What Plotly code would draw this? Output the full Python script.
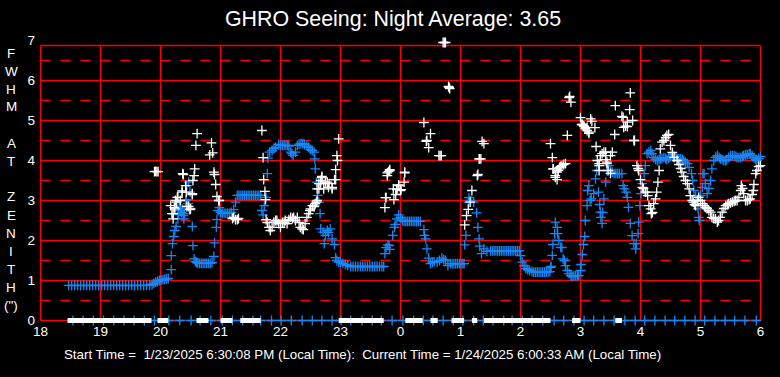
import plotly.graph_objects as go

# ---------------- data (hours since midnight of start day; 24+ = next day) ----------------
blue_hours = [
    18.47, 18.52, 18.57, 18.62, 18.67, 18.72, 18.77, 18.82, 18.87, 18.92,
    18.97, 19.02, 19.07, 19.12, 19.17, 19.22, 19.27, 19.32, 19.37, 19.42,
    19.47, 19.52, 19.57, 19.62, 19.67, 19.72, 19.77, 19.82, 19.86, 19.89,
    19.92, 19.95, 19.98, 20.01, 20.04, 20.07, 20.10, 20.13, 20.18, 20.18,
    20.20, 20.22, 20.24, 20.26, 20.29, 20.30, 20.31, 20.33, 20.35, 20.36,
    20.38, 20.39, 20.40, 20.42, 20.43, 20.44, 20.46, 20.47, 20.49, 20.50,
    20.53, 20.54, 20.56, 20.58, 20.60, 20.62, 20.65, 20.68, 20.71, 20.74,
    20.77, 20.80, 20.83, 20.86, 20.89, 20.90, 20.93, 20.94, 20.96, 20.98,
    21.00, 21.03, 21.06, 21.09, 21.12, 21.15, 21.18, 21.22, 21.25, 21.28,
    21.31, 21.34, 21.37, 21.40, 21.43, 21.46, 21.49, 21.52, 21.55, 21.58,
    21.61, 21.64, 21.67, 21.69, 21.71, 21.73, 21.76, 21.78, 21.79, 21.82,
    21.86, 21.89, 21.92, 21.97, 22.00, 22.03, 22.06, 22.09, 22.12, 22.14,
    22.17, 22.19, 22.21, 22.25, 22.28, 22.31, 22.34, 22.37, 22.40, 22.44,
    22.47, 22.50, 22.53, 22.56, 22.57, 22.58, 22.60, 22.62, 22.64, 22.66,
    22.67, 22.71, 22.73, 22.75, 22.78, 22.80, 22.83, 22.86, 22.90, 22.92,
    22.94, 22.97, 23.00, 23.04, 23.08, 23.12, 23.17, 23.21, 23.25, 23.29,
    23.33, 23.37, 23.41, 23.45, 23.49, 23.53, 23.57, 23.61, 23.65, 23.69,
    23.72, 23.74, 23.76, 23.79, 23.81, 23.82, 23.87, 23.90, 23.91, 23.94,
    23.97, 24.00, 24.03, 24.06, 24.09, 24.12, 24.15, 24.18, 24.21, 24.24,
    24.27, 24.30, 24.33, 24.39, 24.40, 24.42, 24.44, 24.47, 24.50, 24.53,
    24.56, 24.61, 24.65, 24.69, 24.72, 24.75, 24.79, 24.83, 24.86, 24.89,
    24.92, 24.95, 24.98, 25.01, 25.04, 25.06, 25.07, 25.09, 25.10, 25.13,
    25.14, 25.17, 25.22, 25.27, 25.29, 25.31, 25.32, 25.35, 25.39, 25.44,
    25.50, 25.53, 25.56, 25.59, 25.62, 25.65, 25.68, 25.71, 25.74, 25.77,
    25.80, 25.83, 25.86, 25.89, 25.92, 25.95, 25.98, 26.00, 26.03, 26.06,
    26.09, 26.12, 26.15, 26.19, 26.22, 26.25, 26.28, 26.31, 26.34, 26.37,
    26.40, 26.43, 26.46, 26.49, 26.50, 26.51, 26.53, 26.54, 26.57, 26.58,
    26.61, 26.62, 26.64, 26.67, 26.69, 26.71, 26.73, 26.75, 26.78, 26.81,
    26.84, 26.86, 26.89, 26.92, 26.95, 26.97, 27.00, 27.01, 27.03, 27.05,
    27.07, 27.08, 27.11, 27.12, 27.14, 27.16, 27.18, 27.22, 27.25, 27.27,
    27.30, 27.32, 27.33, 27.34, 27.36, 27.37, 27.39, 27.42, 27.44, 27.47,
    27.50, 27.53, 27.56, 27.59, 27.62, 27.65, 27.69, 27.71, 27.73, 27.76,
    27.78, 27.80, 27.83, 27.86, 27.89, 27.92, 27.93, 27.96, 27.97, 27.99,
    28.01, 28.03, 28.06, 28.08, 28.11, 28.14, 28.17, 28.19, 28.22, 28.25,
    28.28, 28.31, 28.33, 28.36, 28.39, 28.42, 28.44, 28.47, 28.50, 28.54,
    28.57, 28.61, 28.64, 28.67, 28.70, 28.72, 28.75, 28.78, 28.81, 28.85,
    28.87, 28.89, 28.92, 28.94, 28.96, 28.97, 28.98, 29.00, 29.03, 29.04,
    29.06, 29.08, 29.11, 29.14, 29.17, 29.19, 29.22, 29.25, 29.28, 29.31,
    29.33, 29.36, 29.39, 29.42, 29.44, 29.47, 29.50, 29.53, 29.56, 29.59,
    29.61, 29.64, 29.67, 29.70, 29.72, 29.75, 29.78, 29.81, 29.83, 29.86,
    29.89, 29.92, 29.94, 29.97, 30.00,
]
blue_fwhm = [
    0.88, 0.87, 0.88, 0.88, 0.87, 0.88, 0.88, 0.87, 0.88, 0.88,
    0.87, 0.88, 0.88, 0.87, 0.88, 0.88, 0.87, 0.88, 0.88, 0.87,
    0.88, 0.88, 0.87, 0.88, 0.88, 0.87, 0.88, 0.88, 0.90, 0.93,
    0.96, 0.98, 1.00, 1.01, 1.02, 1.03, 1.04, 1.05, 1.27, 1.62,
    1.92, 2.10, 2.25, 2.35, 2.54, 2.65, 2.85, 2.75, 2.70, 2.79,
    2.62, 2.54, 2.67, 3.00, 3.02, 3.37, 2.92, 3.46, 3.21, 2.80,
    2.35, 1.87, 1.54, 1.48, 1.45, 1.44, 1.43, 1.43, 1.43, 1.43,
    1.43, 1.43, 1.43, 1.45, 1.60, 1.94, 2.33, 2.52, 2.75, 2.82,
    2.71, 2.68, 2.68, 2.68, 2.68, 2.68, 2.70, 2.77, 2.96, 3.13,
    3.13, 3.13, 3.13, 3.13, 3.13, 3.13, 3.13, 3.13, 3.13, 3.13,
    3.13, 3.13, 3.13, 2.75, 2.64, 2.87, 3.08, 3.67, 4.06, 4.21,
    4.25, 4.30, 4.33, 4.40, 4.38, 4.38, 4.38, 4.38, 4.38, 4.36,
    4.21, 4.17, 4.13, 4.21, 4.38, 4.41, 4.42, 4.42, 4.40, 4.36,
    4.33, 4.28, 4.25, 4.21, 4.04, 3.79, 3.46, 3.13, 2.96, 2.67,
    2.29, 2.21, 1.92, 2.13, 2.25, 2.20, 2.29, 2.04, 1.90, 1.57,
    1.50, 1.46, 1.46, 1.43, 1.40, 1.38, 1.35, 1.35, 1.35, 1.35,
    1.35, 1.35, 1.35, 1.35, 1.35, 1.35, 1.35, 1.35, 1.35, 1.35,
    1.35, 1.67, 1.82, 1.89, 1.87, 1.78, 2.13, 2.33, 2.40, 2.54,
    2.64, 2.57, 2.50, 2.48, 2.48, 2.48, 2.48, 2.48, 2.48, 2.48,
    2.48, 2.48, 2.48, 2.27, 2.13, 2.04, 1.79, 1.56, 1.42, 1.45,
    1.47, 1.46, 1.50, 1.56, 1.52, 1.50, 1.37, 1.42, 1.42, 1.42,
    1.42, 1.42, 1.42, 1.42, 1.42, 1.42, 1.89, 2.13, 2.63, 2.96,
    3.07, 3.00, 2.96, 2.69, 2.33, 2.04, 1.86, 1.67, 1.79, 1.73,
    1.74, 1.74, 1.74, 1.74, 1.74, 1.74, 1.74, 1.74, 1.74, 1.74,
    1.74, 1.74, 1.74, 1.74, 1.74, 1.74, 1.74, 1.62, 1.46, 1.37,
    1.30, 1.27, 1.25, 1.23, 1.21, 1.21, 1.21, 1.21, 1.21, 1.21,
    1.21, 1.21, 1.21, 1.22, 1.33, 1.35, 1.63, 1.90, 2.17, 2.46,
    2.33, 2.17, 2.00, 1.83, 1.82, 1.54, 1.50, 1.37, 1.25, 1.17,
    1.12, 1.10, 1.12, 1.12, 1.12, 1.12, 1.25, 1.40, 1.65, 1.90,
    2.10, 2.50, 2.87, 3.25, 3.37, 3.00, 3.04, 3.17, 3.54, 3.75,
    3.21, 2.90, 2.71, 2.58, 2.43, 2.70, 3.04, 3.46, 3.75, 3.87,
    3.75, 3.71, 3.67, 3.67, 3.67, 3.67, 3.67, 3.37, 3.29, 3.21,
    3.08, 2.83, 2.43, 2.12, 1.92, 1.79, 1.92, 2.17, 2.46, 2.87,
    3.17, 3.42, 3.67, 3.87, 4.17, 4.21, 4.25, 4.17, 4.07, 4.03,
    4.00, 4.02, 4.04, 4.05, 4.07, 4.05, 4.02, 4.06, 4.10, 4.15,
    4.10, 4.04, 4.04, 4.04, 4.02, 4.00, 3.96, 3.92, 3.83, 3.67,
    3.50, 3.25, 3.10, 3.00, 2.79, 2.58, 2.50, 3.12, 3.33, 3.67,
    3.67, 3.42, 3.17, 3.30, 3.50, 3.79, 4.00, 4.08, 4.12, 4.08,
    4.04, 4.02, 4.00, 4.00, 4.02, 4.08, 4.12, 4.12, 4.12, 4.10,
    4.07, 4.07, 4.07, 4.10, 4.12, 4.14, 4.15, 4.16, 4.17, 4.12,
    4.07, 4.03, 4.00, 4.05, 4.10,
]

white_hours = [
    19.90, 19.92, 19.94, 19.96, 20.17, 20.19, 20.21, 20.21, 20.23, 20.24,
    20.25, 20.27, 20.28, 20.29, 20.33, 20.36, 20.36, 20.37, 20.38, 20.42,
    20.43, 20.44, 20.47, 20.49, 20.50, 20.53, 20.53, 20.54, 20.56, 20.57,
    20.59, 20.61, 20.82, 20.85, 20.87, 20.89, 20.90, 20.92, 20.94, 20.97,
    20.98, 21.20, 21.22, 21.25, 21.28, 21.30, 21.69, 21.71, 21.72, 21.74,
    21.75, 21.76, 21.78, 21.81, 21.83, 21.86, 21.89, 21.92, 21.94, 21.97,
    22.00, 22.03, 22.06, 22.08, 22.11, 22.14, 22.17, 22.20, 22.22, 22.25,
    22.28, 22.31, 22.33, 22.36, 22.38, 22.41, 22.44, 22.47, 22.49, 22.50,
    22.53, 22.56, 22.58, 22.60, 22.61, 22.61, 22.64, 22.64, 22.67, 22.67,
    22.69, 22.69, 22.72, 22.75, 22.78, 22.80, 22.81, 22.86, 22.86, 22.90,
    22.92, 22.92, 22.94, 22.95, 22.97, 23.74, 23.75, 23.76, 23.78, 23.78,
    23.80, 23.82, 23.82, 23.88, 23.89, 23.92, 23.94, 23.94, 23.97, 23.97,
    24.00, 24.01, 24.06, 24.07, 24.07, 24.39, 24.43, 24.44, 24.47, 24.50,
    24.64, 24.66, 24.68, 24.71, 24.73, 24.75, 24.80, 24.81, 24.82, 25.07,
    25.10, 25.13, 25.16, 25.19, 25.28, 25.29, 25.31, 25.32, 25.34, 25.36,
    25.39, 26.50, 26.53, 26.54, 26.55, 26.58, 26.58, 26.61, 26.61, 26.63,
    26.65, 26.67, 26.69, 26.72, 26.75, 26.78, 26.81, 26.82, 26.84, 27.00,
    27.02, 27.03, 27.05, 27.06, 27.08, 27.11, 27.11, 27.14, 27.14, 27.17,
    27.19, 27.24, 27.26, 27.28, 27.31, 27.31, 27.31, 27.33, 27.36, 27.39,
    27.42, 27.42, 27.44, 27.44, 27.46, 27.50, 27.50, 27.53, 27.57, 27.58,
    27.69, 27.71, 27.72, 27.75, 27.78, 27.78, 27.82, 27.83, 27.87, 27.89,
    27.90, 27.94, 27.96, 27.97, 28.00, 28.03, 28.05, 28.08, 28.11, 28.12,
    28.14, 28.17, 28.18, 28.20, 28.22, 28.25, 28.27, 28.29, 28.31, 28.33,
    28.36, 28.39, 28.42, 28.44, 28.47, 28.50, 28.53, 28.56, 28.61, 28.64,
    28.67, 28.69, 28.72, 28.75, 28.78, 28.81, 28.83, 28.86, 28.88, 28.90,
    28.92, 28.95, 28.97, 29.00, 29.03, 29.06, 29.08, 29.11, 29.14, 29.17,
    29.19, 29.22, 29.25, 29.28, 29.30, 29.33, 29.36, 29.39, 29.42, 29.45,
    29.47, 29.50, 29.53, 29.56, 29.58, 29.61, 29.64, 29.67, 29.68, 29.70,
    29.72, 29.75, 29.78, 29.81, 29.83, 29.86, 29.88, 29.89, 29.92, 29.94,
    29.97, 30.00,
]
white_fwhm = [
    3.72, 3.73, 3.72, 3.72, 2.87, 2.67, 2.54, 2.67, 2.82, 2.79,
    3.00, 2.96, 3.08, 3.08, 3.00, 3.21, 3.24, 3.67, 3.65, 3.37,
    3.21, 2.85, 2.85, 2.77, 2.79, 3.15, 3.17, 3.50, 3.62, 3.79,
    4.38, 4.67, 4.14, 4.44, 4.19, 3.71, 3.65, 3.40, 3.10, 3.00,
    3.00, 2.55, 2.58, 2.52, 2.52, 2.55, 4.75, 4.07, 3.52, 3.23,
    3.02, 2.52, 2.45, 2.33, 2.25, 2.33, 2.46, 2.50, 2.50, 2.42,
    2.33, 2.45, 2.46, 2.50, 2.42, 2.52, 2.58, 2.55, 2.58, 2.50,
    2.58, 2.45, 2.33, 2.29, 2.27, 2.42, 2.58, 2.67, 2.75, 2.79,
    2.87, 2.85, 2.92, 2.96, 3.00, 3.29, 3.29, 3.42, 3.42, 3.50,
    3.57, 3.60, 3.29, 3.46, 3.46, 3.33, 3.42, 3.29, 3.33, 3.52,
    3.52, 3.77, 4.12, 4.00, 4.54, 2.82, 3.07, 3.07, 3.62, 3.69,
    3.72, 3.75, 3.77, 3.29, 3.02, 3.15, 3.27, 3.29, 3.37, 3.39,
    3.25, 3.27, 3.46, 3.69, 3.71, 4.95, 4.48, 4.50, 4.32, 4.67,
    4.12, 4.12, 4.12, 6.95, 6.95, 6.95, 5.85, 5.83, 5.80, 2.39,
    2.62, 2.78, 2.96, 3.25, 3.62, 3.65, 4.04, 4.04, 4.04, 4.48,
    4.42, 4.42, 4.07, 3.79, 3.79, 3.58, 3.62, 3.52, 3.71, 3.75,
    3.83, 3.85, 3.87, 3.90, 3.92, 4.63, 5.57, 5.60, 5.46, 5.07,
    4.90, 4.90, 4.87, 4.85, 4.80, 4.75, 4.83, 4.71, 4.68, 5.04,
    4.98, 4.82, 4.35, 4.00, 3.92, 3.87, 3.75, 4.12, 4.17, 4.21,
    4.21, 4.02, 3.96, 3.92, 3.75, 4.12, 3.68, 4.21, 4.65, 5.37,
    5.10, 5.08, 4.83, 4.86, 4.96, 4.85, 5.27, 5.69, 5.00, 4.50,
    4.50, 3.87, 3.80, 3.75, 3.52, 3.33, 3.30, 3.21, 3.21, 3.12,
    2.87, 2.79, 2.67, 2.70, 2.92, 3.04, 3.21, 3.46, 3.75, 4.29,
    4.46, 4.50, 4.58, 4.63, 4.65, 4.38, 4.20, 4.08, 4.00, 3.90,
    3.80, 3.71, 3.60, 3.50, 3.42, 3.29, 3.12, 3.00, 2.96, 2.90,
    2.87, 3.00, 3.08, 3.00, 2.92, 2.87, 2.83, 2.80, 2.75, 2.71,
    2.58, 2.55, 2.54, 2.46, 2.50, 2.58, 2.71, 2.80, 2.87, 2.90,
    2.92, 2.94, 2.96, 2.98, 3.00, 3.00, 3.08, 3.25, 3.37, 3.30,
    3.17, 3.00, 3.00, 3.02, 3.04, 3.15, 3.25, 3.40, 3.67, 3.75,
    3.85, 3.87,
]

# status marks along the zero line
base_blue_hours = [
    18.54, 18.71, 18.88, 19.05, 19.22, 19.39, 19.56, 19.73, 19.90, 20.14,
    20.32, 20.51, 20.66, 20.84, 21.03, 21.20, 21.37, 21.54, 21.67, 21.85,
    22.01, 22.18, 22.36, 22.53, 22.69, 22.86, 23.01, 23.17, 23.36, 23.53,
    23.68, 23.86, 24.04, 24.22, 24.38, 24.54, 24.71, 24.88, 25.04, 25.22,
    25.38, 25.54, 25.72, 25.86, 26.03, 26.19, 26.37, 26.56, 26.72, 26.89,
    27.06, 27.22, 27.39, 27.56, 27.74, 27.91, 28.07, 28.24, 28.41, 28.57,
    28.74, 28.91, 29.07, 29.24, 29.41, 29.57, 29.74, 29.93,
]
base_white_start = [18.45, 19.95, 20.60, 21.00, 21.33, 22.97, 24.08, 24.50, 24.85, 25.19, 25.39, 26.86, 27.58]
base_white_end = [19.85, 20.13, 20.80, 21.20, 21.67, 23.72, 24.37, 24.62, 25.06, 25.28, 26.50, 27.00, 27.69]

hour_ticks = [18, 19, 20, 21, 22, 23, 24, 25, 26, 27, 28, 29, 30]
hour_labels = ["18", "19", "20", "21", "22", "23", "0", "1", "2", "3", "4", "5", "6"]
fwhm_ticks = [0, 1, 2, 3, 4, 5, 6, 7]

title_text = "GHRO Seeing: Night Average: 3.65"
footer_text = ("Start Time =  1/23/2025 6:30:08 PM (Local Time):  "
               "Current Time = 1/24/2025 6:00:33 AM (Local Time)")
ylabel_lines = ["F", "W", "H", "M", "", "A", "T", "", "Z", "E", "N", "I", "T", "H", "(\")"]

# ---------------- style ----------------
BLUE = "#1a86f5"
WHITE = "#ffffff"
RED = "#ff0000"
FONT = "Liberation Sans, Arial, sans-serif"
TOP = 6.875  # frame top (slightly below 7)
# half-pixel padding so 1px grid lines fall on pixel centres; extra room below 0
XPAD = 0.5 / 60
YTOP_PAD = 0.5 / 40
YBOT_PAD = 4.5 / 40
PLOT_TOP, PLOT_BOT = 40, 325
PLOT_H = PLOT_BOT - PLOT_TOP

fig = go.Figure()

cross = dict(symbol="cross-thin", size=7)
LW = 1.3

# blue status crosses on the zero line (under the white bars)
fig.add_trace(go.Scatter(x=base_blue_hours, y=[0] * len(base_blue_hours), mode="markers",
                         marker=dict(**cross, color=BLUE, line=dict(color=BLUE, width=LW)),
                         showlegend=False, cliponaxis=False))

# white status bars on the zero line
bx, by = [], []
for s, e in zip(base_white_start, base_white_end):
    bx += [s, e, None]
    by += [0, 0, None]
fig.add_trace(go.Scatter(x=bx, y=by, mode="lines",
                         line=dict(color=WHITE, width=5), hoverinfo="skip",
                         showlegend=False, cliponaxis=False))

fig.add_trace(go.Scatter(x=blue_hours, y=blue_fwhm, mode="markers",
                         marker=dict(**cross, color=BLUE, line=dict(color=BLUE, width=LW)),
                         showlegend=False, cliponaxis=False))
fig.add_trace(go.Scatter(x=white_hours, y=white_fwhm, mode="markers",
                         marker=dict(**cross, color=WHITE, line=dict(color=WHITE, width=LW)),
                         showlegend=False, cliponaxis=False))

shapes = []
x0, x1 = hour_ticks[0], hour_ticks[-1]
GW = 1.4
for h in hour_ticks:
    shapes.append(dict(type="line", xref="x", yref="y", x0=h, x1=h, y0=0, y1=TOP,
                       line=dict(color=RED, width=GW), layer="below"))
for v in fwhm_ticks[:-1]:
    shapes.append(dict(type="line", xref="x", yref="y", x0=x0, x1=x1, y0=v, y1=v,
                       line=dict(color=RED, width=GW), layer="below"))
    shapes.append(dict(type="line", xref="x", yref="y", x0=x0, x1=x1, y0=v + 0.5, y1=v + 0.5,
                       line=dict(color=RED, width=GW, dash="10px,10px"), layer="below"))
shapes.append(dict(type="line", xref="x", yref="y", x0=x0, x1=x1, y0=TOP, y1=TOP,
                   line=dict(color=RED, width=GW), layer="below"))

annotations = []
for i, ch in enumerate(ylabel_lines):
    if not ch:
        continue
    ypix = 53 + 18 * i
    annotations.append(dict(text=ch, xref="paper", yref="paper",
                            x=(11.5 - 40) / 721, y=(PLOT_BOT - ypix) / PLOT_H,
                            xanchor="center", yanchor="middle", showarrow=False,
                            font=dict(family=FONT, size=13.5, color=WHITE)))
annotations.append(dict(text=footer_text, xref="paper", yref="paper",
                        x=(362 - 40) / 721, y=(PLOT_BOT - 355) / PLOT_H,
                        xanchor="center", yanchor="middle", showarrow=False,
                        font=dict(family=FONT, size=13.3, color=WHITE)))

fig.update_layout(
    width=780, height=377,
    margin=dict(l=40, r=19, t=PLOT_TOP, b=377 - PLOT_BOT, pad=0),
    paper_bgcolor="black", plot_bgcolor="black",
    title=dict(text=title_text, xref="paper", x=(393 - 40) / 721, xanchor="center",
               yref="container", y=1 - 19 / 377, yanchor="middle",
               font=dict(family=FONT, size=21.4, color=WHITE)),
    xaxis=dict(range=[18 - XPAD, 30 + XPAD], tickvals=hour_ticks, ticktext=hour_labels,
               showgrid=False, zeroline=False, showline=False, ticks="",
               ticklabelstandoff=-4,
               tickfont=dict(family=FONT, size=13.5, color=WHITE), fixedrange=True),
    yaxis=dict(range=[-YBOT_PAD, 7 + YTOP_PAD], tickvals=fwhm_ticks, showgrid=False,
               zeroline=False, showline=False, ticks="", ticklabelstandoff=4,
               tickfont=dict(family=FONT, size=13.5, color=WHITE), fixedrange=True),
    shapes=shapes, annotations=annotations, showlegend=False,
)

fig.write_html("out.html", config={"displayModeBar": False},
               post_script="document.body.style.margin='0';document.body.style.overflow='hidden';")
